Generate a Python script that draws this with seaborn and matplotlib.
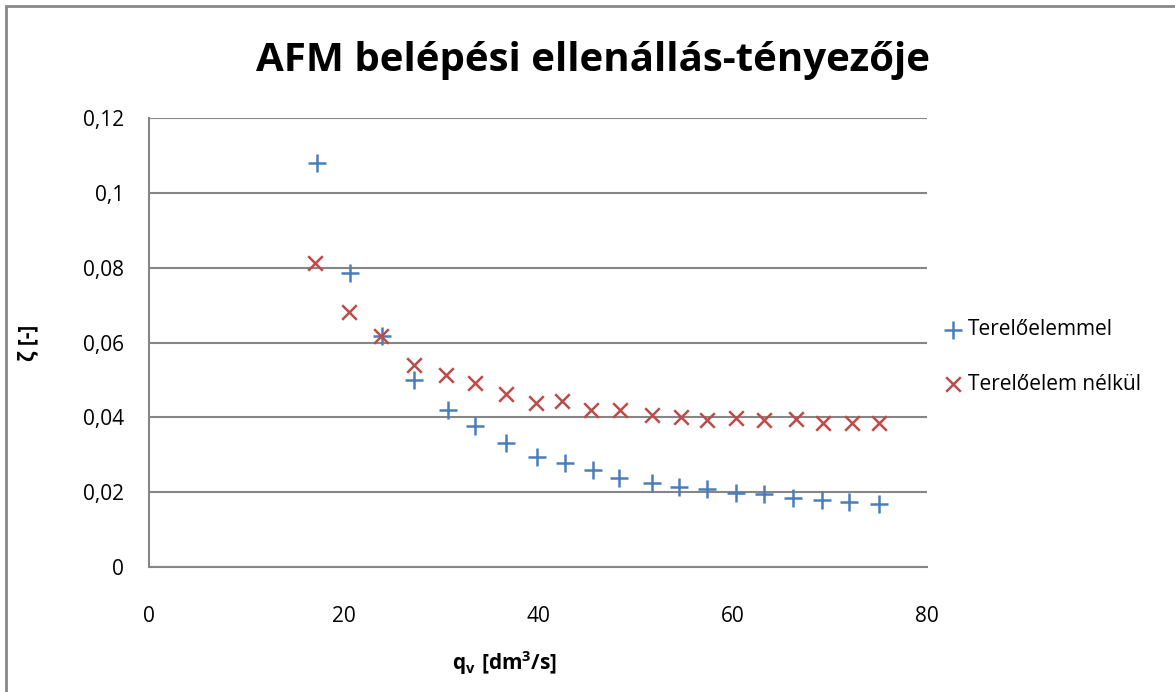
import matplotlib
matplotlib.use("Agg")
import matplotlib.pyplot as plt
import seaborn as sns
import numpy as np
import pandas as pd
from matplotlib.ticker import FuncFormatter, MultipleLocator
from matplotlib.patches import Rectangle

# ---- data ----
qv_with = [17.3, 20.7, 24.0, 27.3, 30.7, 33.5, 36.7, 39.9, 42.8, 45.7,
           48.3, 51.7, 54.5, 57.4, 60.4, 63.2, 66.2, 69.2, 72.0, 75.1]
zeta_with = [0.1081, 0.0785, 0.0617, 0.0500, 0.0420, 0.0378, 0.0332, 0.0293, 0.0278, 0.0259,
             0.0239, 0.0224, 0.0213, 0.0209, 0.0199, 0.0195, 0.0185, 0.0179, 0.0174, 0.0169]

qv_without = [17.1, 20.6, 23.9, 27.3, 30.5, 33.5, 36.7, 39.8, 42.5, 45.5,
              48.4, 51.7, 54.7, 57.4, 60.4, 63.2, 66.5, 69.3, 72.3, 75.1]
zeta_without = [0.0813, 0.0682, 0.0617, 0.0540, 0.0513, 0.0493, 0.0462, 0.0437, 0.0444, 0.0420,
                0.0420, 0.0406, 0.0402, 0.0393, 0.0397, 0.0393, 0.0395, 0.0384, 0.0384, 0.0384]

series_names = ["Terelőelemmel", "Terelőelem nélkül"]
title = "AFM belépési ellenállás-tényezője"
xlabel = r"$\mathrm{q_v\ [dm^3/s]}$"
ylabel = "ζ [-]"

sns.set_theme(style="white")
FONT = "Open Sans"
plt.rcParams['font.family'] = [FONT, 'DejaVu Sans']
plt.rcParams['text.color'] = 'black'
plt.rcParams['mathtext.fontset'] = 'custom'
plt.rcParams['mathtext.rm'] = f'{FONT}:bold'
plt.rcParams['mathtext.it'] = f'{FONT}:bold'
plt.rcParams['mathtext.bf'] = f'{FONT}:bold'

fig = plt.figure(figsize=(11.75, 6.92), dpi=100)
ax = fig.add_axes([149/1175, 1-567/692, (927-149)/1175, (567-118)/692])

blue = "#4a7ebb"
red = "#be4b48"

sns.scatterplot(x=qv_with, y=zeta_with, marker="+", s=150, color=blue,
                linewidth=1.8, label=series_names[0], ax=ax, zorder=3)
sns.scatterplot(x=qv_without, y=zeta_without, marker="x", s=110, color=red,
                linewidth=1.8, label=series_names[1], ax=ax, zorder=3)

ax.set_xlim(0, 80)
ax.set_ylim(0, 0.12)
ax.xaxis.set_major_locator(MultipleLocator(20))
ax.yaxis.set_major_locator(MultipleLocator(0.02))

def fmt(v, pos):
    s = f"{v:.2f}".rstrip("0").rstrip(".")
    if s == "" or float(s) == 0:
        s = "0"
    return s.replace(".", ",")

ax.yaxis.set_major_formatter(FuncFormatter(fmt))
ax.xaxis.set_major_formatter(FuncFormatter(lambda v, p: f"{int(round(v))}"))

ax.grid(axis="y", color="#868686", linewidth=1.5)
ax.set_axisbelow(True)
for side in ["top", "right"]:
    ax.spines[side].set_visible(False)
for side in ["left", "bottom"]:
    ax.spines[side].set_color("#868686")
    ax.spines[side].set_linewidth(1.5)

ax.tick_params(axis="both", length=0, labelsize=15, colors="black")
ax.tick_params(axis="y", pad=18)
ax.tick_params(axis="x", pad=28)

fig.text(593/1175, 1-60/692, title, ha="center", va="center",
         fontsize=29, fontweight="bold", color="black")
fig.text(28/1175, 1-343/692, ylabel, ha="center", va="center",
         rotation=90, fontsize=15, fontweight="bold", color="black")
fig.text(505/1175, 1-663/692, xlabel, ha="center", va="center",
         fontsize=15, color="black")

leg = ax.legend(loc="center left", bbox_to_anchor=(934/1175, 1-357/692),
                bbox_transform=fig.transFigure, frameon=False, fontsize=15,
                handletextpad=0.25, labelspacing=1.6, handlelength=1.0,
                borderaxespad=0)
for t in leg.get_texts():
    t.set_color("black")

# outer chart border
fig.patches.append(Rectangle((6/1175, -0.1), 2.0, 1 - 6/692 + 0.1,
                             transform=fig.transFigure, fill=False,
                             edgecolor="#888888", linewidth=2.0))

fig.savefig("out.png", dpi=100)
